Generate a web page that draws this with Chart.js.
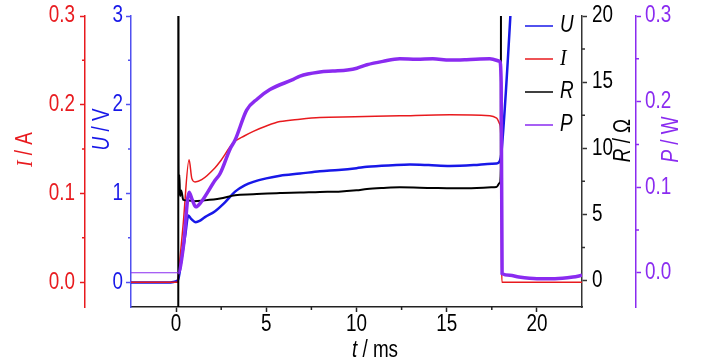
<!DOCTYPE html>
<html>
<head>
<meta charset="utf-8">
<script src="https://cdn.jsdelivr.net/npm/chart.js@4/dist/chart.umd.min.js"></script>
<style>
  html, body { margin: 0; padding: 0; background: #fff; }
  canvas { display: block; }
</style>
</head>
<body>
<canvas id="c" width="728" height="364"></canvas>
<script>
// time axis (ms) and tick values
var xTicks = [0, 5, 10, 15, 20];
var xMinor = [2.5, 7.5, 12.5, 17.5];

var iTicks = [0, 0.1, 0.2, 0.3];
var iMinor = [0.05, 0.15, 0.25];
var uTicks = [0, 1, 2, 3];
var uMinor = [0.5, 1.5, 2.5];
var rTicks = [0, 5, 10, 15, 20];
var rMinor = [2.5, 7.5, 12.5, 17.5];
var pTicks = [0, 0.1, 0.2, 0.3];
var pMinor = [0.05, 0.15, 0.25];

// U / V
var tU = [-2.5, -1.5, -0.5, 0.1, 0.3, 0.5, 0.68, 0.85, 1.09, 1.3, 1.6, 2.16, 2.71, 3.27, 3.8, 4.28, 5.0, 5.76, 6.87, 7.97, 9.0, 10.0, 10.58, 12.0, 12.96, 14.0, 15.17, 16.5, 17.5, 17.76, 17.95, 18.03, 19.0];
var uVals = [-0.005, -0.005, -0.005, 0.02, 0.26, 0.52, 0.75, 0.71, 0.676, 0.69, 0.733, 0.80, 0.90, 1.02, 1.09, 1.13, 1.17, 1.20, 1.224, 1.25, 1.265, 1.285, 1.30, 1.318, 1.326, 1.32, 1.31, 1.32, 1.335, 1.337, 1.37, 1.45, 4.72];

// I / A
var tI = [-2.5, 0.09, 0.13, 0.4, 0.72, 0.87, 1.05, 1.42, 2.16, 2.44, 3.17, 3.8, 4.28, 5.0, 5.76, 6.87, 7.97, 9.9, 12.4, 15.17, 17.39, 17.77, 17.94, 18.02, 18.04, 18.06, 22.5];
var iVals = [0, 0, 0.008, 0.067, 0.138, 0.117, 0.113, 0.1155, 0.129, 0.136, 0.157, 0.165, 0.170, 0.176, 0.181, 0.1837, 0.1856, 0.1864, 0.1875, 0.1886, 0.1875, 0.185, 0.178, 0.15, 0.03, 0, 0];

// R / Ohm
var tR = [0.12, 0.125, 0.135, 0.15, 0.18, 0.22, 0.28, 0.4, 0.7, 1.0, 1.5, 2.44, 3.27, 4.28, 5.76, 6.87, 7.97, 9.0, 10.0, 10.58, 11.5, 12.4, 14.23, 16.1, 17.76, 17.95, 18.0, 18.03];
var rVals = [-40, 60, 10.3, 7.0, 8.0, 6.4, 6.8, 6.1, 6.05, 6.0, 6.05, 6.2, 6.45, 6.52, 6.62, 6.65, 6.70, 6.72, 6.82, 6.92, 7.0, 7.05, 7.0, 6.97, 7.07, 7.4, 8.5, 60];

// P / W
var tP = [-2.5, 0.12, 0.4, 0.72, 0.9, 1.09, 1.4, 2.16, 2.44, 3.0, 3.27, 3.91, 4.5, 5.2, 6.5, 6.87, 7.97, 8.69, 9.5, 10.02, 10.58, 11.46, 12.4, 13.34, 14.23, 15.17, 16.1, 17.39, 17.94, 18.02, 18.07, 18.5, 19, 20, 21, 22, 22.5];
var pVals = [0, 0, 0.03, 0.094, 0.085, 0.077, 0.083, 0.108, 0.116, 0.145, 0.155, 0.19, 0.203, 0.214, 0.226, 0.2298, 0.2345, 0.2357, 0.237, 0.239, 0.243, 0.247, 0.250, 0.2494, 0.25, 0.2486, 0.249, 0.25, 0.247, 0.222, -0.001, -0.003, -0.005, -0.007, -0.007, -0.005, -0.003];

var RED = 'rgb(232,26,30)';
var BLUE = 'rgb(24,24,232)';
var BLUE_AX = 'rgb(80,80,240)';
var PURPLE = 'rgb(138,43,240)';
var BLACK = '#000';
var FONT = "'Liberation Sans', Arial, sans-serif";
var SERIF = "'Liberation Serif', serif";
var SQ = 0.82; // the original text is narrow

function pts(t, v) {
    return t.map(function (x, i) { return {x: x, y: v[i]}; });
}

function setTicks(list) {
    return function (scale) {
        scale.ticks = list.map(function (v) { return {value: v}; });
    };
}

function yAxis(pos, min, max, ticks, color, width, weight) {
    return {
        type: 'linear',
        position: pos,
        weight: weight,
        min: min,
        max: max,
        afterBuildTicks: setTicks(ticks),
        afterFit: function (s) { s.width = width; },
        border: {display: true, color: color, width: 1.5},
        grid: {drawOnChartArea: false, drawTicks: true, tickLength: 5, color: color, tickWidth: 1.5},
        ticks: {display: false}
    };
}

function fix1(v) { return v.toFixed(1); }
function plain(v) { return String(v); }

// tick labels, minor ticks, axis titles and legend
var decor = {
    id: 'decor',
    afterDraw: function (chart) {
        var ctx = chart.ctx;
        var sc = chart.scales;

        function minor(id, vals, color) {
            var s = sc[id];
            ctx.save();
            ctx.strokeStyle = color;
            ctx.lineWidth = 1.5;
            ctx.beginPath();
            vals.forEach(function (v) {
                var p = s.getPixelForValue(v);
                if (id === 'x') {
                    ctx.moveTo(p, s.top); ctx.lineTo(p, s.top + 3);
                } else if (s.position === 'left') {
                    ctx.moveTo(s.right - 3, p); ctx.lineTo(s.right, p);
                } else {
                    ctx.moveTo(s.left, p); ctx.lineTo(s.left + 3, p);
                }
            });
            ctx.stroke();
            ctx.restore();
        }
        minor('x', xMinor, '#222');
        minor('yI', iMinor, RED);
        minor('yU', uMinor, BLUE_AX);
        minor('yR', rMinor, '#333');
        minor('yP', pMinor, PURPLE);

        function labels(id, vals, fmt, color, gap) {
            var s = sc[id];
            ctx.save();
            ctx.fillStyle = color;
            ctx.font = '23px ' + FONT;
            ctx.textBaseline = 'middle';
            vals.forEach(function (v) {
                var p = s.getPixelForValue(v);
                var x, y;
                if (id === 'x') {
                    x = p; y = s.top + 18; ctx.textAlign = 'center';
                } else if (s.position === 'left') {
                    x = s.right - gap; y = p; ctx.textAlign = 'right';
                } else {
                    x = s.left + gap; y = p; ctx.textAlign = 'left';
                }
                ctx.save();
                ctx.translate(x, y);
                ctx.scale(SQ, 1);
                ctx.fillText(fmt(v), 0, 0);
                ctx.restore();
            });
            ctx.restore();
        }
        labels('x', xTicks, plain, BLACK, 0);
        labels('yI', iTicks, fix1, RED, 10);
        labels('yU', uTicks, plain, BLUE, 8);
        labels('yR', rTicks, plain, BLACK, 10);
        labels('yP', pTicks, fix1, PURPLE, 9);

        function title(parts, cx, cy, rot, color) {
            ctx.save();
            ctx.translate(cx, cy);
            ctx.rotate(rot);
            ctx.scale(SQ, 1);
            ctx.fillStyle = color;
            ctx.textBaseline = 'middle';
            var w = 0;
            parts.forEach(function (p) { ctx.font = p[1]; w += ctx.measureText(p[0]).width; });
            var x = -w / 2;
            parts.forEach(function (p) {
                ctx.font = p[1];
                ctx.fillText(p[0], x, 0);
                x += ctx.measureText(p[0]).width;
            });
            ctx.restore();
        }
        var it = 'italic 23px ' + FONT;
        var up = '23px ' + FONT;
        var mid = (chart.chartArea.top + chart.chartArea.bottom) / 2;
        title([['I', 'italic 24px ' + SERIF], [' / A', up]], sc.yI.left + 26, mid - 12, -Math.PI / 2, RED);
        title([['U', it], [' / V', up]], sc.yU.left + 18, mid - 32, -Math.PI / 2, BLUE);
        title([['R', it], [' / \u03A9', up]], sc.yR.right - 12, mid - 21, -Math.PI / 2, BLACK);
        title([['P', it], [' / W', up]], sc.yP.left + 36, mid - 22, -Math.PI / 2, PURPLE);
        title([['t', it], [' / ms', up]], 375, 351, 0, BLACK);

        // legend
        var ca = chart.chartArea;
        chart.data.datasets.forEach(function (ds, k) {
            var y = ca.top + 10 + k * 33;
            ctx.save();
            ctx.strokeStyle = ds.borderColor;
            ctx.lineWidth = 1.5;
            ctx.beginPath();
            ctx.moveTo(ca.right - 57, y);
            ctx.lineTo(ca.right - 29, y);
            ctx.stroke();
            ctx.fillStyle = BLACK;
            ctx.textBaseline = 'middle';
            ctx.translate(ca.right - 22, y);
            ctx.scale(SQ, 1);
            ctx.font = ds.label === 'I' ? 'italic 24px ' + SERIF : 'italic 23px ' + FONT;
            ctx.fillText(ds.label, 0, 0);
            ctx.restore();
        });
    }
};

var ctx = document.getElementById('c').getContext('2d');
var chart = new Chart(ctx, {
    type: 'line',
    data: {
        datasets: [
            {label: 'U', data: pts(tU, uVals), yAxisID: 'yU', borderColor: BLUE, borderWidth: 2.5, order: 4},
            {label: 'I', data: pts(tI, iVals), yAxisID: 'yI', borderColor: RED, borderWidth: 1.5, order: 3},
            {label: 'R', data: pts(tR, rVals), yAxisID: 'yR', borderColor: BLACK, borderWidth: 2, order: 2},
            {label: 'P', data: pts(tP, pVals), yAxisID: 'yP', borderColor: PURPLE, borderWidth: 3.5, order: 1,
                segment: {borderWidth: function (c) { return c.p1.parsed.x <= 0.12 ? 1.2 : undefined; }}}
        ]
    },
    options: {
        responsive: false,
        animation: false,
        devicePixelRatio: 1,
        layout: {padding: {top: 16, left: 0, right: 0, bottom: 0}},
        elements: {
            point: {radius: 0},
            line: {cubicInterpolationMode: 'monotone', fill: false}
        },
        datasets: {line: {clip: 0}},
        plugins: {legend: {display: false}, tooltip: {enabled: false}},
        scales: {
            x: {
                type: 'linear',
                position: 'bottom',
                min: -2.5,
                max: 22.5,
                afterBuildTicks: setTicks(xTicks),
                afterFit: function (s) { s.height = 57; },
                border: {display: true, color: '#222', width: 1.5},
                grid: {drawOnChartArea: false, tickLength: 5, color: '#222', tickWidth: 1.5},
                ticks: {display: false}
            },
            yI: yAxis('left', -0.028, 0.3, iTicks, RED, 85, 2),
            yU: yAxis('left', -0.28, 3, uTicks, BLUE_AX, 46, 1),
            yR: yAxis('right', -2, 20, rTicks, '#333', 54, 1),
            yP: yAxis('right', -0.04, 0.3, pTicks, PURPLE, 92, 2)
        }
    },
    plugins: [decor]
});
</script>
</body>
</html>
